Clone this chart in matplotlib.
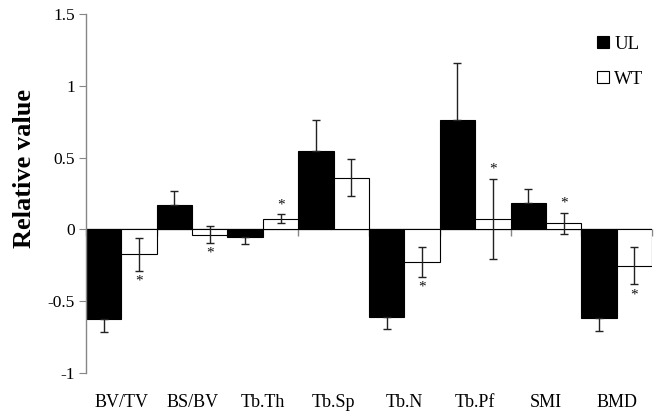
import matplotlib
matplotlib.use("Agg")
import matplotlib.pyplot as plt
import numpy as np

categories = ["BV/TV", "BS/BV", "Tb.Th", "Tb.Sp", "Tb.N", "Tb.Pf", "SMI", "BMD"]
ul_values = [-0.626, 0.17, -0.056, 0.545, -0.61, 0.759, 0.186, -0.617]
ul_errors = [0.09, 0.095, 0.044, 0.22, 0.086, 0.40, 0.095, 0.09]
wt_values = [-0.174, -0.037, 0.074, 0.36, -0.227, 0.074, 0.042, -0.253]
wt_errors = [0.115, 0.06, 0.03, 0.13, 0.105, 0.28, 0.075, 0.13]
wt_significant = [True, True, True, False, True, True, True, True]
yticks = [-1, -0.5, 0, 0.5, 1, 1.5]
ytick_labels = ["-1", "-0.5", "0", "0.5", "1", "1.5"]

serif = ["Liberation Serif", "DejaVu Serif"]
axis_gray = "#868686"

fig = plt.figure(figsize=(6.65, 4.16), dpi=100)
ax = fig.add_axes([0.1293, 0.1034, 0.9805 - 0.1293, 0.9663 - 0.1034])

x = np.arange(len(categories))
w = 0.5
ax.bar(x - w / 2, ul_values, width=w, color="black", edgecolor="black",
       linewidth=0.8, label="UL", zorder=2)
ax.bar(x + w / 2, wt_values, width=w, color="white", edgecolor="black",
       linewidth=0.8, label="WT", zorder=2)

# UL: one-sided error bars (outward)
ul_v = np.array(ul_values)
ul_e = np.array(ul_errors)
lower = np.where(ul_v < 0, ul_e, 0)
upper = np.where(ul_v >= 0, ul_e, 0)
ax.errorbar(x - w / 2, ul_v, yerr=[lower, upper], fmt="none", ecolor="#222222",
            elinewidth=1.0, capsize=3, capthick=1.0, zorder=3)
# WT: two-sided
ax.errorbar(x + w / 2, wt_values, yerr=wt_errors, fmt="none", ecolor="#222222",
            elinewidth=1.0, capsize=3, capthick=1.0, zorder=3)

# asterisks
for xi, v, e, s in zip(x + w / 2, wt_values, wt_errors, wt_significant):
    if not s:
        continue
    if v >= 0:
        ax.annotate("*", (xi, v + e), xytext=(0, 2), textcoords="offset points",
                    ha="center", va="bottom", fontsize=11, family=serif, color="#111111")
    else:
        ax.annotate("*", (xi, v - e), xytext=(0, -12), textcoords="offset points",
                    ha="center", va="bottom", fontsize=11, family=serif, color="#111111")

ax.set_xlim(-0.5, len(categories) - 0.5)
ax.set_ylim(-1, 1.5)
ax.set_yticks(yticks)
ax.set_yticklabels(ytick_labels, family=serif, fontsize=12.5)
ax.tick_params(axis="y", direction="out", length=5, color=axis_gray, pad=3)

for sp in ["top", "right", "bottom"]:
    ax.spines[sp].set_visible(False)
ax.spines["left"].set_color(axis_gray)
ax.spines["left"].set_linewidth(1.0)

# category labels at bottom
ax.set_xticks(x)
ax.set_xticklabels(categories, family=serif, fontsize=13)
ax.tick_params(axis="x", length=0, pad=15)

# zero axis line with boundary ticks
ax.axhline(0, color=axis_gray, linewidth=1.0, zorder=1)
sec = ax.secondary_xaxis((0 - (-1)) / 2.5)
sec.set_xticks(np.arange(len(categories) + 1) - 0.5)
sec.set_xticklabels([])
sec.tick_params(direction="out", length=5, color=axis_gray, width=1.0)
for sp in sec.spines.values():
    sp.set_visible(False)

ax.set_ylabel("Relative value", family=serif, fontsize=19, fontweight="bold")
ax.yaxis.set_label_coords(-0.088, 0.571)

ax.legend(loc="upper left", bbox_to_anchor=(0.89, 0.96), frameon=False,
          prop={"family": serif, "size": 13.5}, handlelength=0.6, handleheight=0.6,
          handletextpad=0.3, labelspacing=0.95, borderaxespad=0)

fig.savefig("out.png", dpi=100)
